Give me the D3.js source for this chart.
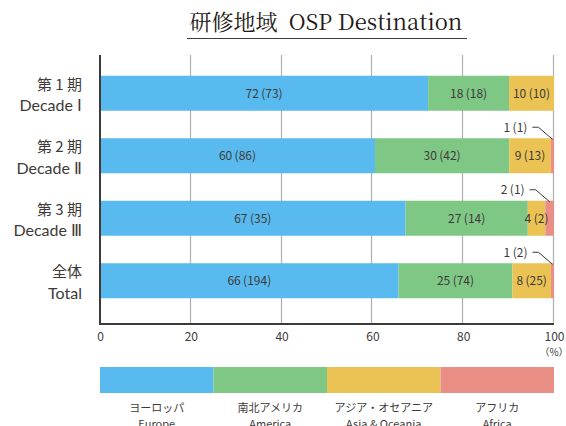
<!DOCTYPE html>
<html>
<head>
<meta charset="utf-8">
<script src="https://cdn.jsdelivr.net/npm/d3@7"></script>
<style>
  body { margin: 0; background: #fff; }
  svg { display: block; }
</style>
</head>
<body>
<div id="chart"></div>
<script>
// Periods (rows), two label lines each
var periodsJa = ["第 1 期", "第 2 期", "第 3 期", "全体"];
var periodsEn = ["Decade Ⅰ", "Decade Ⅱ", "Decade Ⅲ", "Total"];

// Regions (stack order)
var regions = ["europe", "america", "asia", "africa"];
var regionJa = ["ヨーロッパ", "南北アメリカ", "アジア・オセアニア", "アフリカ"];
var regionEn = ["Europe", "America", "Asia & Oceania", "Africa"];
var colors = ["#58baee", "#7fc785", "#ebc354", "#e98f86"];

// number of participants per period
var europeCount = [73, 86, 35, 194];
var americaCount = [18, 42, 14, 74];
var asiaCount = [10, 13, 2, 25];
var africaCount = [0, 1, 1, 2];

// percentages as printed on the chart
var europePct = [72, 60, 67, 66];
var americaPct = [18, 30, 27, 25];
var asiaPct = [10, 9, 4, 8];
var africaPct = [0, 1, 2, 1];

var xTicks = [0, 20, 40, 60, 80, 100];

var W = 566, H = 426;
var plotLeft = 100, plotRight = 554, plotTop = 55, plotBottom = 324;
var ink = "#3e3a39";

var svg = d3.select("#chart").append("svg")
    .attr("width", W).attr("height", H);

// title
svg.append("text")
    .attr("x", 326).attr("y", 30)
    .attr("text-anchor", "middle")
    .attr("fill", "#231815")
    .style("font-family", "'Noto Serif CJK JP', 'Liberation Serif', 'DejaVu Serif', serif")
    .style("font-size", "22px")
    .text("研修地域\u00a0\u00a0OSP Destination");
svg.append("line")
    .attr("x1", 187).attr("x2", 467)
    .attr("y1", 38.5).attr("y2", 38.5)
    .attr("stroke", ink).attr("stroke-width", 1.2);

var x = d3.scaleLinear().domain([0, 100]).range([plotLeft, plotRight]);
var y = d3.scaleBand().domain(d3.range(periodsJa.length))
    .range([62, 312]).paddingInner(0.44).paddingOuter(0.22);

// gridlines
svg.append("g").selectAll("line")
    .data(xTicks.slice(1))
    .join("line")
    .attr("x1", function(d) { return Math.round(x(d)) - 0.5; })
    .attr("x2", function(d) { return Math.round(x(d)) - 0.5; })
    .attr("y1", plotTop).attr("y2", plotBottom)
    .attr("stroke", "#b0b0b0").attr("stroke-width", 1.2);

// stacked data
var counts = [europeCount, americaCount, asiaCount, africaCount];
var pcts = [europePct, americaPct, asiaPct, africaPct];
var rows = periodsJa.map(function(p, i) {
    var total = d3.sum(counts, function(c) { return c[i]; });
    var acc = 0;
    return regions.map(function(r, k) {
        var share = counts[k][i] / total * 100;
        var seg = {row: i, k: k, x0: acc, x1: acc + share,
                   count: counts[k][i], pct: pcts[k][i]};
        acc += share;
        return seg;
    });
});
var segs = d3.merge(rows).filter(function(s) { return s.count > 0; });

svg.append("g").selectAll("rect")
    .data(segs)
    .join("rect")
    .attr("x", function(d) { return x(d.x0); })
    .attr("width", function(d) { return x(d.x1) - x(d.x0); })
    .attr("y", function(d) { return y(d.row); })
    .attr("height", y.bandwidth())
    .attr("fill", function(d) { return colors[d.k]; });

var labelFont = "'Noto Sans CJK JP', 'Noto Sans', sans-serif";

// labels inside segments (not Africa)
svg.append("g").selectAll("text")
    .data(segs.filter(function(d) { return d.k < 3; }))
    .join("text")
    .attr("x", function(d) { return (x(d.x0) + x(d.x1)) / 2; })
    .attr("y", function(d) { return y(d.row) + y.bandwidth() / 2; })
    .attr("dy", "0.36em")
    .attr("text-anchor", "middle")
    .attr("fill", ink)
    .style("font-family", labelFont)
    .style("font-size", "12px")
    .text(function(d) { return d.pct + "\u2009(" + d.count + ")"; });

// Africa callouts
var af = segs.filter(function(d) { return d.k === 3; });
var callout = svg.append("g").selectAll("g").data(af).join("g");
callout.append("text")
    .attr("x", function(d) { return (x(d.x0) + x(d.x1)) / 2 - 25; })
    .attr("y", function(d) { return y(d.row) - 11; })
    .attr("dy", "0.36em")
    .attr("text-anchor", "end")
    .attr("fill", ink)
    .style("font-family", labelFont)
    .style("font-size", "12px")
    .text(function(d) { return d.pct + "\u2009(" + d.count + ")"; });
callout.append("path")
    .attr("d", function(d) {
        var cx = (x(d.x0) + x(d.x1)) / 2;
        var ty = y(d.row) - 11;
        return "M" + (cx - 20) + "," + ty + "H" + (cx - 14) +
            "L" + cx + "," + (y(d.row) + 1);
    })
    .attr("fill", "none")
    .attr("stroke", ink).attr("stroke-width", 1);

// axes lines
svg.append("line")
    .attr("x1", plotLeft).attr("x2", plotLeft)
    .attr("y1", plotTop).attr("y2", plotBottom + 1)
    .attr("stroke", ink).attr("stroke-width", 2);
svg.append("line")
    .attr("x1", plotLeft - 1).attr("x2", plotRight)
    .attr("y1", plotBottom).attr("y2", plotBottom)
    .attr("stroke", ink).attr("stroke-width", 2);

// x tick labels
var xAxis = d3.axisBottom(x).tickValues(xTicks).tickSize(0).tickPadding(0);
var gx = svg.append("g")
    .attr("transform", "translate(0," + (plotBottom + 8) + ")")
    .call(xAxis);
gx.select(".domain").remove();
gx.selectAll("text")
    .attr("fill", ink)
    .style("font-family", labelFont)
    .style("font-size", "12px");
svg.append("text")
    .attr("x", x(100)).attr("y", plotBottom + 32)
    .attr("text-anchor", "middle")
    .attr("fill", ink)
    .style("font-family", labelFont)
    .style("font-size", "10px")
    .text("（%）");

// y labels
var yl = svg.append("g").selectAll("g")
    .data(periodsJa)
    .join("g")
    .attr("transform", function(d, i) {
        return "translate(82," + (y(i) + y.bandwidth() / 2) + ")";
    });
yl.append("text")
    .attr("y", -9).attr("dy", "0.36em")
    .attr("text-anchor", "end")
    .attr("fill", ink)
    .style("font-family", labelFont)
    .style("font-size", "15px")
    .text(function(d) { return d; });
yl.append("text")
    .attr("y", 12).attr("dy", "0.36em")
    .attr("text-anchor", "end")
    .attr("fill", ink)
    .style("font-family", "Lato, 'Noto Sans', sans-serif")
    .style("font-size", "16px")
    .text(function(d, i) { return periodsEn[i]; });

// legend
var lx = d3.scaleBand().domain(d3.range(regions.length)).range([plotLeft, plotRight]);
var lg = svg.append("g").selectAll("g")
    .data(regions)
    .join("g")
    .attr("transform", function(d, i) { return "translate(" + lx(i) + ",0)"; });
lg.append("rect")
    .attr("y", 367).attr("height", 26)
    .attr("width", lx.bandwidth())
    .attr("fill", function(d, i) { return colors[i]; });
lg.append("text")
    .attr("x", lx.bandwidth() / 2).attr("y", 408)
    .attr("dy", "0.36em")
    .attr("text-anchor", "middle")
    .attr("fill", ink)
    .style("font-family", labelFont)
    .style("font-size", "11px")
    .text(function(d, i) { return regionJa[i]; });
lg.append("text")
    .attr("x", lx.bandwidth() / 2).attr("y", 424)
    .attr("dy", "0.36em")
    .attr("text-anchor", "middle")
    .attr("fill", ink)
    .style("font-family", labelFont)
    .style("font-size", "11px")
    .text(function(d, i) { return regionEn[i]; });
</script>
</body>
</html>
